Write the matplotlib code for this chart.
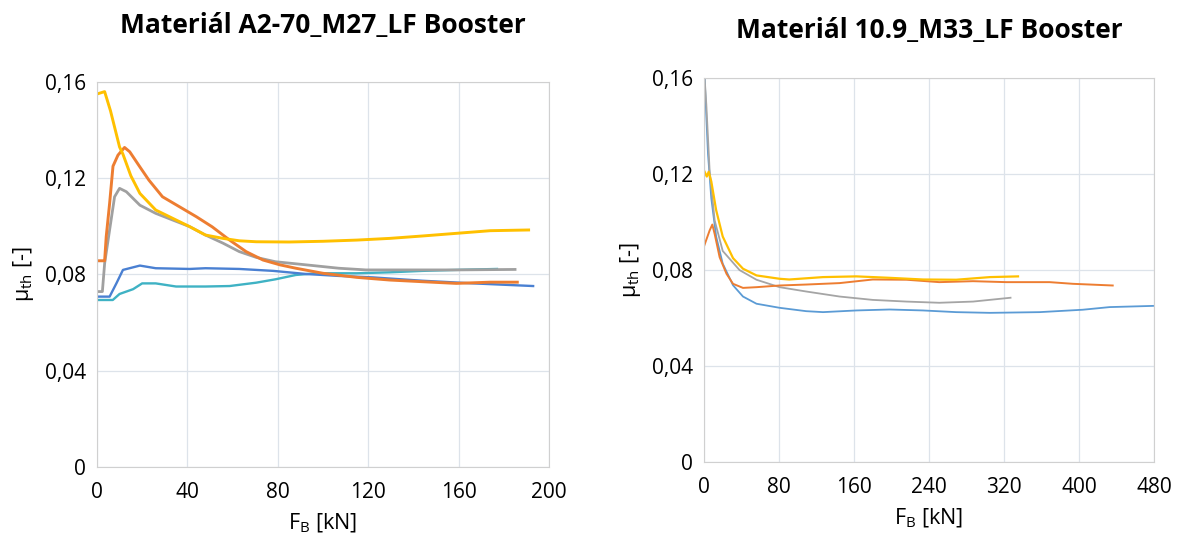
import matplotlib
matplotlib.use('Agg')
import matplotlib.pyplot as plt
from matplotlib.ticker import FuncFormatter

plt.rcParams['font.family'] = ['Open Sans', 'DejaVu Sans']

# --- left chart: A2-70_M27 ---
l_yellow_x = [0, 3.4, 6, 10, 11.5, 15, 19, 26, 33.6, 41, 48, 55.8, 63, 70.5, 85, 100, 115, 129.5, 144, 159, 174, 191]
l_yellow_y = [0.155, 0.156, 0.148, 0.133, 0.130, 0.121, 0.1137, 0.1068, 0.1033, 0.0999, 0.0964, 0.095, 0.094, 0.0936, 0.0935, 0.0938, 0.0943, 0.095, 0.096, 0.0971, 0.0982, 0.0985]

l_orange_x = [0, 3.4, 4.1, 5.6, 7.1, 9.3, 12.2, 14.5, 19, 23, 29, 36.6, 44, 51, 58.7, 66, 73.5, 81, 88, 100, 115, 129.5, 144, 159, 174, 186]
l_orange_y = [0.0857, 0.0857, 0.0957, 0.1095, 0.125, 0.1296, 0.1328, 0.131, 0.1247, 0.1192, 0.1123, 0.1081, 0.104, 0.0998, 0.0943, 0.0895, 0.086, 0.084, 0.0826, 0.0805, 0.0788, 0.0777, 0.077, 0.0763, 0.0768, 0.0768]

l_gray_x = [0, 2.4, 3.4, 5.6, 7.8, 10, 13, 19, 26, 33.6, 41, 48, 55.8, 63, 70.5, 79, 92.6, 107, 119, 137, 159, 185]
l_gray_y = [0.0729, 0.0729, 0.0846, 0.0985, 0.1123, 0.1158, 0.1144, 0.1088, 0.1054, 0.1026, 0.0999, 0.0964, 0.093, 0.0895, 0.0871, 0.0853, 0.084, 0.0826, 0.0819, 0.0819, 0.0819, 0.0821]

l_blue_x = [0, 5.6, 8.6, 11.5, 19, 26, 41, 48, 63, 78, 92.6, 107, 122, 144, 166.5, 193]
l_blue_y = [0.0708, 0.0708, 0.0763, 0.0819, 0.0837, 0.0826, 0.0823, 0.0826, 0.0823, 0.0815, 0.0802, 0.0794, 0.0788, 0.0774, 0.0763, 0.0752]

l_teal_x = [0, 7, 10, 16, 20, 26, 35, 48, 58.7, 70.5, 79, 88, 97, 115, 129.5, 144, 159, 177]
l_teal_y = [0.0694, 0.0694, 0.0719, 0.0739, 0.0763, 0.0763, 0.075, 0.075, 0.0752, 0.0766, 0.078, 0.0798, 0.0805, 0.0805, 0.0809, 0.0815, 0.0819, 0.0823]

# --- right chart: 10.9_M33 ---
r_blue_x = [0.7, 4.3, 7.8, 13, 20, 31, 41.6, 56, 80.7, 109, 127, 162.5, 198, 233.6, 269, 305, 358, 404, 432.7, 479]
r_blue_y = [0.16, 0.1285, 0.110, 0.094, 0.0827, 0.0737, 0.069, 0.066, 0.0643, 0.0629, 0.0625, 0.0632, 0.0636, 0.0632, 0.0625, 0.0622, 0.0625, 0.0635, 0.0646, 0.0651]

r_gray_x = [0.7, 2.5, 6, 11.4, 20, 38, 56, 80.7, 109, 144.7, 180, 216, 251, 287, 327]
r_gray_y = [0.16, 0.149, 0.1215, 0.1007, 0.088, 0.080, 0.076, 0.0729, 0.0711, 0.069, 0.0676, 0.0669, 0.0664, 0.0669, 0.0685]

r_yellow_x = [0.7, 3, 5, 7.8, 13, 20, 31, 41.6, 56, 80.7, 91, 127, 162.5, 198, 233.6, 269, 305, 335]
r_yellow_y = [0.121, 0.119, 0.121, 0.117, 0.105, 0.094, 0.085, 0.0806, 0.0778, 0.0764, 0.0761, 0.0771, 0.0774, 0.0768, 0.0761, 0.076, 0.0771, 0.0774]

r_orange_x = [0, 6, 8.9, 11.4, 16.7, 24, 31, 41.6, 56, 80.7, 109, 144.7, 180, 216, 251, 287, 322.5, 368.7, 393.6, 436]
r_orange_y = [0.0899, 0.0965, 0.099, 0.0951, 0.0854, 0.0785, 0.0743, 0.0726, 0.0729, 0.0736, 0.074, 0.0746, 0.0761, 0.076, 0.075, 0.0754, 0.075, 0.075, 0.0743, 0.0736]

yticks = [0, 0.04, 0.08, 0.12, 0.16]


def comma(v, pos):
    if v == 0:
        return '0'
    return ('%.2f' % v).replace('.', ',')


fig = plt.figure(figsize=(11.78, 5.43), dpi=100)
ax1 = fig.add_axes([0.0823, 0.140, 0.3837, 0.709])
ax2 = fig.add_axes([0.5976, 0.149, 0.382, 0.707])

ax1.plot(l_teal_x, l_teal_y, color='#3fb2c4', lw=1.7)
ax1.plot(l_blue_x, l_blue_y, color='#4a80d2', lw=1.7)
ax1.plot(l_gray_x, l_gray_y, color='#a0a0a0', lw=2.0)
ax1.plot(l_orange_x, l_orange_y, color='#ed7d31', lw=2.1)
ax1.plot(l_yellow_x, l_yellow_y, color='#ffc000', lw=2.1)

ax2.plot(r_blue_x, r_blue_y, color='#5b9bd5', lw=1.3)
ax2.plot(r_gray_x, r_gray_y, color='#a5a5a5', lw=1.3)
ax2.plot(r_orange_x, r_orange_y, color='#ed7d31', lw=1.4)
ax2.plot(r_yellow_x, r_yellow_y, color='#ffc000', lw=1.6)

panels = [(ax1, 200, range(0, 201, 40), 'Materiál A2-70_M27_LF Booster', 35),
          (ax2, 480, range(0, 481, 80), 'Materiál 10.9_M33_LF Booster', 29)]
for ax, xmax, xt, title, tpad in panels:
    ax.set_xlim(0, xmax)
    ax.set_ylim(0, 0.16)
    ax.set_xticks(list(xt))
    ax.set_yticks(yticks)
    ax.yaxis.set_major_formatter(FuncFormatter(comma))
    ax.grid(True, color='#dde3ea', lw=0.9)
    ax.set_axisbelow(True)
    for s in ax.spines.values():
        s.set_color('#d0d0d0')
    ax.tick_params(axis='x', length=0, labelsize=15, pad=11)
    ax.tick_params(axis='y', length=0, labelsize=15, pad=8)
    ax.set_xlabel('F$_\\mathregular{B}$ [kN]', fontsize=15.5, labelpad=6)
    ax.set_ylabel('μ$_\\mathregular{th}$ [-]', fontsize=15.5, labelpad=6)
    ax.set_title(title, fontsize=19, fontweight='bold', pad=tpad)

plt.savefig('out.png', dpi=100)
